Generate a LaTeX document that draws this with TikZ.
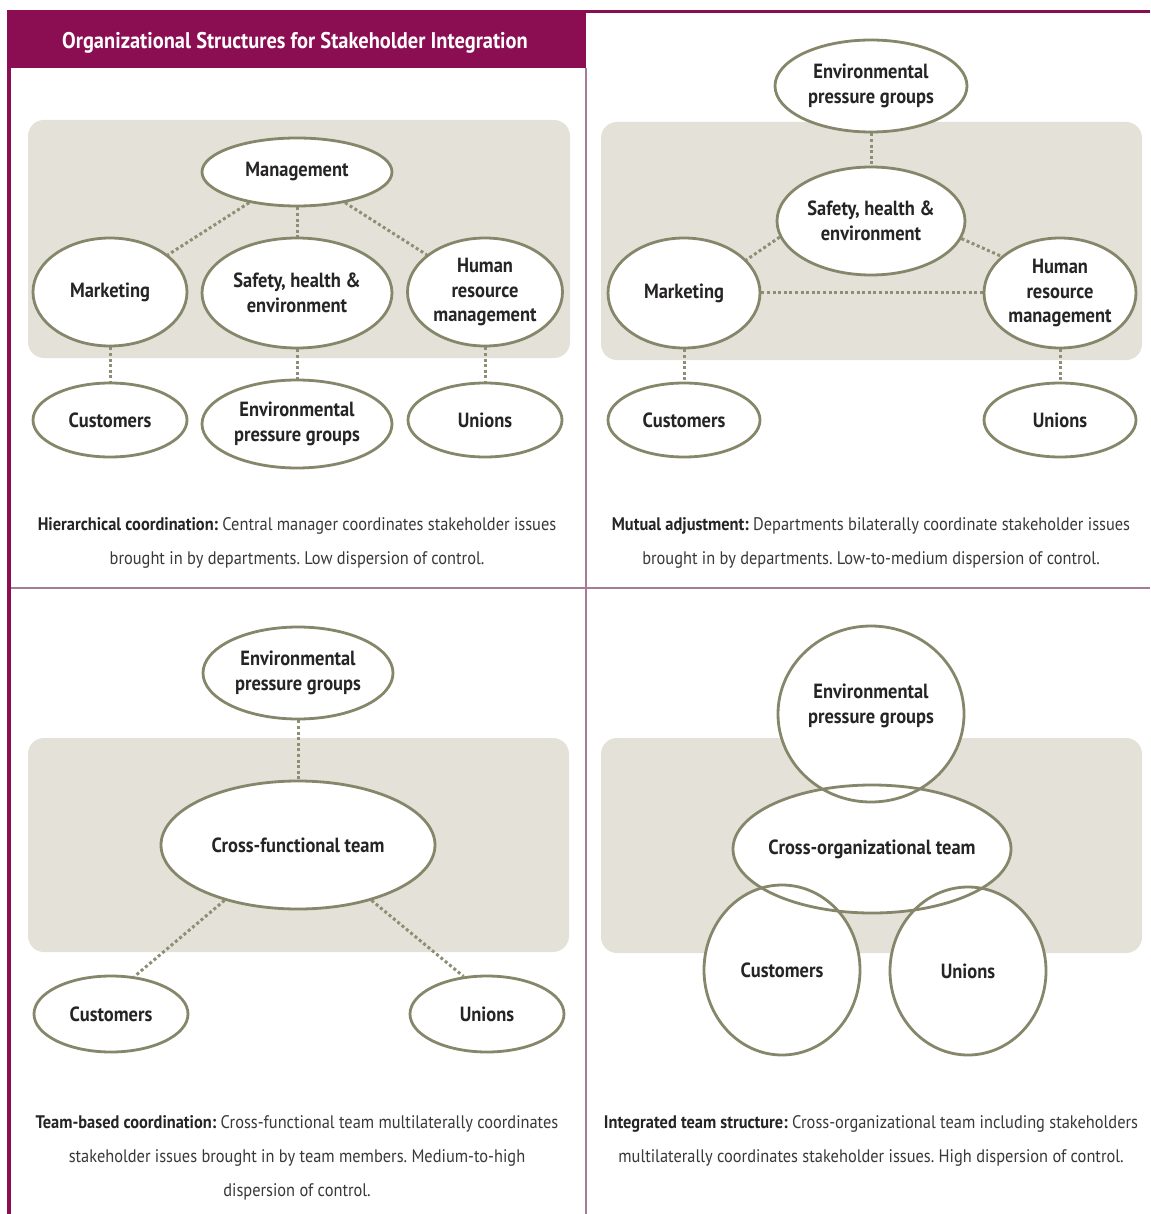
\documentclass[tikz,border=0pt]{standalone}
\usepackage{fontspec}
\setmainfont{PT Sans}[FakeStretch=0.9]
\usetikzlibrary{shapes.geometric}
\definecolor{mag}{HTML}{8C0E52}
\definecolor{divc}{HTML}{A57B98}
\definecolor{panelc}{HTML}{E4E2D8}
\definecolor{olive}{HTML}{86876A}
\definecolor{dotc}{HTML}{8E8E74}
\definecolor{txt}{HTML}{262424}
\definecolor{captc}{HTML}{3A3838}
\pgfdeclarelayer{bg}
\pgfdeclarelayer{lines}
\pgfsetlayers{bg,lines,main}
\frenchspacing
\begin{document}
\begin{tikzpicture}[x=1pt,y=-1pt,
  ell/.style={ellipse, draw=olive, line width=2.8pt, fill=white, inner xsep=-18pt, inner ysep=0pt,
    align=center, text=txt, font=\bfseries\fontsize{20.5}{24.5}\selectfont},
  ring/.style={ell, fill=none},
  dotline/.style={draw=dotc, line width=3pt, dash pattern=on 3pt off 2.6pt},
  panel/.style={fill=panelc, rounded corners=16pt},
  capt/.style={align=center, text=captc, font=\fontsize{18.2}{34}\selectfont, inner sep=0pt}
]
\useasboundingbox (0,0) rectangle (1150,1214);
\begin{pgfonlayer}{bg}
\fill[white] (0,0) rectangle (1150,1214);
% frame
\draw[divc, line width=1.6pt] (586,68) -- (586,1214);
\draw[divc, line width=1.6pt] (9,588) -- (1150,588);
\draw[mag, line width=3pt] (586,11.5) -- (1150,11.5);
\fill[mag] (8,10) rectangle (586,68);
\draw[mag, line width=3.5pt] (9,10) -- (9,1214);
% panels
\fill[panel] (28,120) rectangle (570,358);
\fill[panel] (601,122) rectangle (1142,360);
\fill[panel] (28,738) rectangle (569,952);
\fill[panel] (601,738) rectangle (1142,953);
\end{pgfonlayer}

\node[text=white, font=\bfseries\fontsize{22.7}{26}\selectfont, inner sep=0pt] (title) at (295,43) {Organizational Structures for Stakeholder Integration};

% ---------- panel 1: hierarchical
\node[ell, minimum width=190, minimum height=68] (a-mgmt) at (297,172) {Management};
\node[ell, minimum width=154, minimum height=108] (a-mkt) at (110,292) {Marketing};
\node[ell, minimum width=190, minimum height=110] (a-she) at (297,293) {Safety, health \&\\environment};
\node[ell, minimum width=155, minimum height=108] (a-hrm) at (485,292) {Human\\resource\\management};
\node[ell, minimum width=154, minimum height=74] (a-cus) at (110,420) {Customers};
\node[ell, minimum width=190, minimum height=88] (a-env) at (297,424) {Environmental\\pressure groups};
\node[ell, minimum width=154, minimum height=74] (a-uni) at (485,420) {Unions};
\node[capt] (a-cap) at (297,543) {\textbf{\color{txt}Hierarchical coordination:} Central manager coordinates stakeholder issues\\brought in by departments. Low dispersion of control.};

% ---------- panel 2: mutual adjustment
\node[ell, minimum width=192, minimum height=92] (b-env) at (871,86) {Environmental\\pressure groups};
\node[ell, minimum width=188, minimum height=108] (b-she) at (871,221) {Safety, health \&\\environment};
\node[ell, minimum width=152, minimum height=110] (b-mkt) at (684,293) {Marketing};
\node[ell, minimum width=152, minimum height=110] (b-hrm) at (1060,293) {Human\\resource\\management};
\node[ell, minimum width=152, minimum height=74] (b-cus) at (684,420) {Customers};
\node[ell, minimum width=152, minimum height=74] (b-uni) at (1060,420) {Unions};
\node[capt] (b-cap) at (871,543) {\textbf{\color{txt}Mutual adjustment:} Departments bilaterally coordinate stakeholder issues\\brought in by departments. Low-to-medium dispersion of control.};

% ---------- panel 3: team-based
\node[ell, minimum width=190, minimum height=92] (c-env) at (298,673) {Environmental\\pressure groups};
\node[ell, minimum width=274, minimum height=128] (c-cft) at (298,845) {Cross-functional team};
\node[ell, minimum width=154, minimum height=76] (c-cus) at (111,1014) {Customers};
\node[ell, minimum width=154, minimum height=76] (c-uni) at (487,1014) {Unions};
\node[capt] (c-cap) at (297,1158) {\textbf{\color{txt}Team-based coordination:} Cross-functional team multilaterally coordinates\\stakeholder issues brought in by team members. Medium-to-high\\dispersion of control.};

% ---------- panel 4: integrated
\fill[white] (871,714) ellipse [x radius=93pt, y radius=88pt];
\fill[white] (872,849) ellipse [x radius=139pt, y radius=64pt];
\fill[white] (782,970) ellipse [x radius=78pt, y radius=85pt];
\fill[white] (968,971) ellipse [x radius=78pt, y radius=84pt];
\node[ring, minimum width=186, minimum height=176] (d-env) at (871,714) {Environmental\\pressure groups\\[-4pt]\mbox{}};
\node[ring, minimum width=278, minimum height=128] (d-cot) at (872,849) {Cross-organizational team};
\node[ring, minimum width=156, minimum height=170] (d-cus) at (782,970) {Customers};
\node[ring, minimum width=156, minimum height=168] (d-uni) at (968,971) {Unions};
\node[capt] (d-cap) at (871,1141) {\textbf{\color{txt}Integrated team structure:} Cross-organizational team including stakeholders\\multilaterally coordinates stakeholder issues. High dispersion of control.};

% ---------- connectors
\begin{pgfonlayer}{lines}
\draw[dotline] (a-mgmt) -- (a-mkt);
\draw[dotline] (a-mgmt) -- (a-she);
\draw[dotline] (a-mgmt) -- (a-hrm);
\draw[dotline] (a-mkt) -- (a-cus);
\draw[dotline] (a-she) -- (a-env);
\draw[dotline] (a-hrm) -- (a-uni);

\draw[dotline] (b-env) -- (b-she);
\draw[dotline] (b-she.190) -- (b-mkt.28);
\draw[dotline] (b-she.-11) -- (b-hrm.148);
\draw[dotline] (b-mkt) -- (b-hrm);
\draw[dotline] (b-mkt) -- (b-cus);
\draw[dotline] (b-hrm) -- (b-uni);

\draw[dotline] (c-env) -- (c-cft);
\draw[dotline] (c-cft.217) -- (c-cus.58);
\draw[dotline] (c-cft.323) -- (c-uni.122);
\end{pgfonlayer}
\end{tikzpicture}
\end{document}
